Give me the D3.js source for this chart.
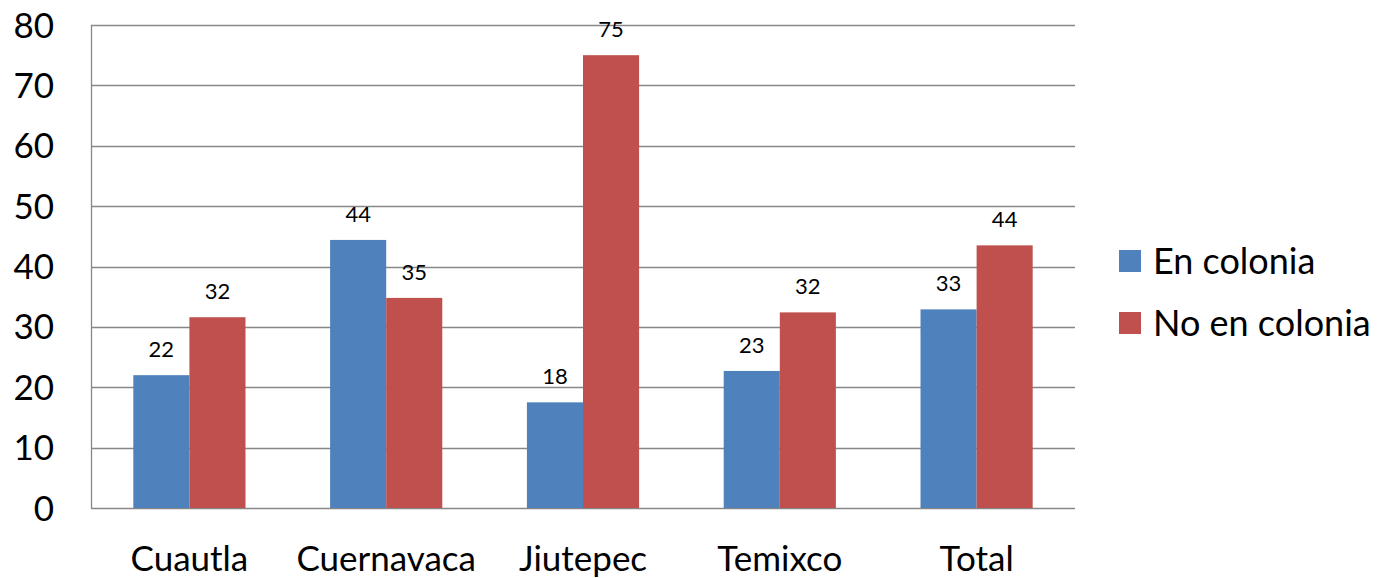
<!DOCTYPE html>
<html>
<head>
<meta charset="utf-8">
<script src="https://cdn.jsdelivr.net/npm/d3@7"></script>
<style>
  body { margin: 0; background: #fff; }
  svg { display: block; font-family: Lato, "Open Sans", sans-serif; }
</style>
</head>
<body>
<div id="chart"></div>
<script>
// chart data
const categories = ["Cuautla", "Cuernavaca", "Jiutepec", "Temixco", "Total"];
const seriesNames = ["En colonia", "No en colonia"];
const enColonia = [22, 44.4, 17.5, 22.7, 32.9];
const noEnColonia = [31.6, 34.8, 75.0, 32.4, 43.5];
const yTicks = [0, 10, 20, 30, 40, 50, 60, 70, 80];
const colors = ["#4f81bd", "#c0504d"];

const width = 1392, height = 578;
const margin = {top: 25, right: 317, bottom: 70, left: 91};

const svg = d3.select("#chart").append("svg")
    .attr("width", width)
    .attr("height", height);

const x = d3.scaleBand()
    .domain(categories)
    .range([margin.left, width - margin.right])
    .paddingInner(0.43)
    .paddingOuter(0.215);

const sub = d3.scaleBand()
    .domain(seriesNames)
    .range([0, x.bandwidth()]);

const y = d3.scaleLinear()
    .domain([0, 80])
    .range([height - margin.bottom, margin.top]);

// gridlines
svg.append("g")
    .selectAll("line")
    .data(yTicks)
    .join("line")
    .attr("x1", margin.left)
    .attr("x2", width - margin.right)
    .attr("y1", d => Math.round(y(d)) + 0.5)
    .attr("y2", d => Math.round(y(d)) + 0.5)
    .attr("stroke", "#878787")
    .attr("stroke-width", 1.3);

// y axis line
svg.append("line")
    .attr("x1", margin.left + 0.5)
    .attr("x2", margin.left + 0.5)
    .attr("y1", y(80))
    .attr("y2", y(0))
    .attr("stroke", "#878787")
    .attr("stroke-width", 1.3);

// y tick labels
svg.append("g")
    .selectAll("text")
    .data(yTicks)
    .join("text")
    .attr("x", 54)
    .attr("y", d => y(d))
    .attr("dy", "0.36em")
    .attr("text-anchor", "end")
    .attr("font-size", 35)
    .attr("fill", "#000")
    .text(d => d);

// bars
const rows = categories.map((c, i) => ({cat: c, values: [enColonia[i], noEnColonia[i]]}));

const groups = svg.append("g")
    .selectAll("g")
    .data(rows)
    .join("g")
    .attr("transform", d => `translate(${x(d.cat)},0)`);

groups.selectAll("rect")
    .data(d => d.values.map((v, j) => ({series: seriesNames[j], v, j})))
    .join("rect")
    .attr("x", d => sub(d.series))
    .attr("y", d => y(d.v))
    .attr("width", sub.bandwidth())
    .attr("height", d => y(0) - y(d.v))
    .attr("fill", d => colors[d.j]);

groups.selectAll("text")
    .data(d => d.values.map((v, j) => ({series: seriesNames[j], v, j})))
    .join("text")
    .attr("x", d => sub(d.series) + sub.bandwidth() / 2)
    .attr("y", d => y(d.v) - 18)
    .attr("text-anchor", "middle")
    .attr("font-size", 22)
    .attr("fill", "#000")
    .text(d => Math.round(d.v));

// category labels
svg.append("g")
    .selectAll("text")
    .data(categories)
    .join("text")
    .attr("x", d => x(d) + x.bandwidth() / 2)
    .attr("y", 571)
    .attr("text-anchor", "middle")
    .attr("font-size", 35)
    .attr("fill", "#000")
    .text(d => d);

// legend
const legend = svg.append("g")
    .selectAll("g")
    .data(seriesNames)
    .join("g")
    .attr("transform", (d, i) => `translate(1119,${250 + i * 62})`);

legend.append("rect")
    .attr("width", 22)
    .attr("height", 22)
    .attr("fill", (d, i) => colors[i]);

legend.append("text")
    .attr("x", 34)
    .attr("y", 11)
    .attr("dy", "0.36em")
    .attr("font-size", 36)
    .attr("fill", "#000")
    .text(d => d);
</script>
</body>
</html>
